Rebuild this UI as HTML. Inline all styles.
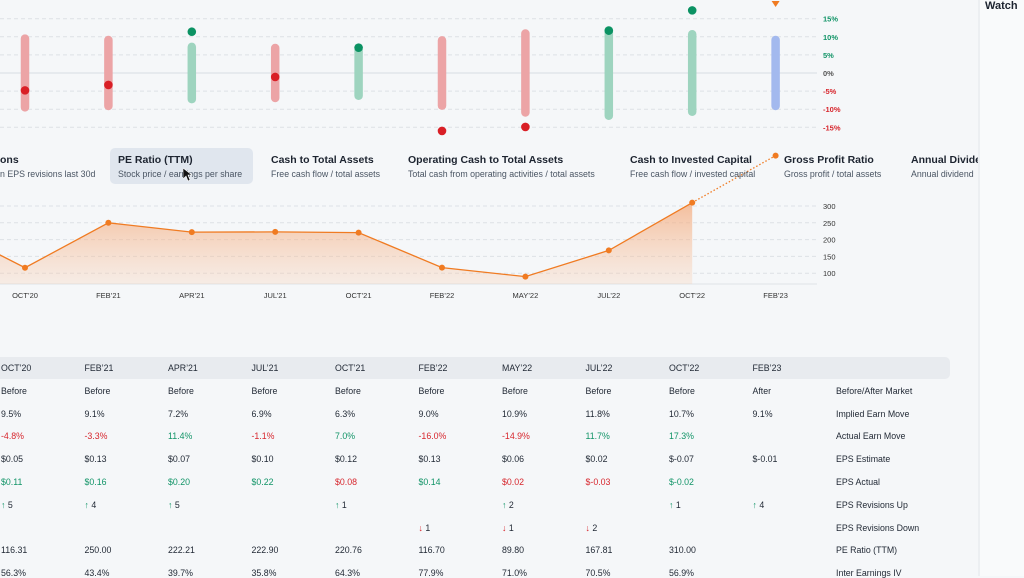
<!DOCTYPE html>
<html><head><meta charset="utf-8"><style>
body{margin:0;width:1024px;height:576px;overflow:hidden;background:#f5f7f9;font-family:"Liberation Sans",sans-serif;position:relative}
.abs{position:absolute;white-space:nowrap}
.tab{position:absolute;top:148px;height:36px;padding:6px 8px;box-sizing:border-box;border-radius:5px;white-space:nowrap}
.tab .t{font-size:10.5px;font-weight:bold;color:#1d2430}
.tab .s{font-size:8.8px;color:#4a5563;margin-top:3px}
.cell{position:absolute;font-size:8.8px;color:#1f2733;white-space:nowrap;transform:translateY(-50%)}
.g{color:#119467}.r{color:#d7262d}
</style></head><body>
<svg id="top" width="1024" height="576" style="position:absolute;left:0;top:0"></svg>
<div class="tab" style="left:-8px"><div class="t">ons</div><div class="s">n EPS revisions last 30d</div></div>
<div class="tab" style="left:110px;width:143px;background:#e0e6ee"><div class="t">PE Ratio (TTM)</div><div class="s">Stock price / earnings per share</div></div>
<div class="tab" style="left:263px"><div class="t">Cash to Total Assets</div><div class="s">Free cash flow / total assets</div></div>
<div class="tab" style="left:400px"><div class="t">Operating Cash to Total Assets</div><div class="s">Total cash from operating activities / total assets</div></div>
<div class="tab" style="left:622px"><div class="t">Cash to Invested Capital</div><div class="s">Free cash flow / invested capital</div></div>
<div class="tab" style="left:776px"><div class="t">Gross Profit Ratio</div><div class="s">Gross profit / total assets</div></div>
<div class="tab" style="left:903px;width:75px;overflow:hidden;padding-right:0"><div class="t">Annual Dividend</div><div class="s">Annual dividend</div></div>
<div style="position:absolute;left:-10px;top:357px;width:960px;height:22px;background:#e8ebef;border-radius:5px"></div>
<div id="table"></div>
<div style="position:absolute;left:978px;top:0;width:46px;height:576px;background:#f9fafb;border-left:2px solid #eceff2"></div>
<div class="abs" style="left:985px;top:0px;font-size:11px;font-weight:bold;color:#1d2430">Watch</div>
<svg width="10" height="14" style="position:absolute;left:183px;top:168px"><path d="M0 0 L0 11 L3 8 L5 13 L7 12 L5 7 L9 7 Z" fill="#111" stroke="#fff" stroke-width=".6"/></svg>
<script>
const cats=["OCT`20","FEB`21","APR`21","JUL`21","OCT`21","FEB`22","MAY`22","JUL`22","OCT`22","FEB`23"];
const implied=[9.5,9.1,7.2,6.9,6.3,9.0,10.9,11.8,10.7,9.1];
const actual=[-4.8,-3.3,11.4,-1.1,7.0,-16.0,-14.9,11.7,17.3,null];
const pctTicks=[15,10,5,0,-5,-10,-15];
const pe=[116.31,250.00,222.21,222.90,220.76,116.70,89.80,167.81,310.00];
const peForecast=450;
const peTicks=[300,250,200,150,100];
const prevPe=243;
const timing=["Before","Before","Before","Before","Before","Before","Before","Before","Before","After"];
const epsEst=["$0.05","$0.13","$0.07","$0.10","$0.12","$0.13","$0.06","$0.02","$-0.07","$-0.01"];
const epsAct=["$0.11","$0.16","$0.20","$0.22","$0.08","$0.14","$0.02","$-0.03","$-0.02",""];
const epsActGood=[1,1,1,1,0,1,0,0,1,null];
const revUp=[5,4,5,null,1,null,2,null,1,4];
const revDown=[null,null,null,null,null,1,1,2,null,null];
const ivs=["56.3%","43.4%","39.7%","35.8%","64.3%","77.9%","71.0%","70.5%","56.9%",""];

const NS="http://www.w3.org/2000/svg";
const svg=document.getElementById('top');
function mk(t,a,p){const e=document.createElementNS(NS,t);for(const k in a)e.setAttribute(k,a[k]);(p||svg).appendChild(e);return e;}
const xCol=i=>25+i*83.4;
const yPct=v=>73-v*3.62;
const yPe=v=>206+(300-v)*0.336;
pctTicks.forEach(t=>{
  const l=mk('line',{x1:0,x2:817,y1:yPct(t),y2:yPct(t),stroke:t===0?'#e1e5ea':'#dde1e6','stroke-width':t===0?1.5:1,'stroke-dasharray':t===0?'':'4 3'});
  
  
  const tx=mk('text',{x:823,y:yPct(t)+3,'font-size':7.5,'font-weight':'bold',fill:t>0?'#119467':t<0?'#d7262d':'#555'});
  tx.textContent=t+'%';
  
  
});
const defs=mk('defs',{});
const gr=mk('linearGradient',{id:'fillg',x1:0,y1:0,x2:0,y2:1},defs);
mk('stop',{offset:0,'stop-color':'#f4a574','stop-opacity':.7},gr);
mk('stop',{offset:1,'stop-color':'#f8c9a8','stop-opacity':.25},gr);
implied.forEach((v,i)=>{
  const a=actual[i];
  const col=a===null?'#a3b9ee':a>=0?'#9ed4bf':'#eca4a6';
  const b=mk('line',{x1:xCol(i),x2:xCol(i),y1:yPct(v),y2:yPct(-v),stroke:col,'stroke-width':8.5,'stroke-linecap':'round'});
  
  
  if(a!==null){
    const d=mk('circle',{cx:xCol(i),cy:yPct(a),r:4.3,fill:a>=0?'#0b9263':'#d91f26'});
    
    
  }
});
const tri=mk('path',{d:`M${xCol(9)-4} 1 L${xCol(9)+4} 1 L${xCol(9)} 7 Z`,fill:'#f07b22'});


peTicks.forEach(t=>{
  const l=mk('line',{x1:0,x2:817,y1:yPe(t),y2:yPe(t),stroke:'#dde1e6','stroke-dasharray':'4 3'});
  
  
  const tx=mk('text',{x:823,y:yPe(t)+3,'font-size':7.5,fill:'#333'});
  tx.textContent=t;
  
  
});
mk('line',{x1:0,x2:817,y1:284,y2:284,stroke:'#dfe3e8'});
let pts=[[xCol(-1),yPe(prevPe)]].concat(pe.map((v,i)=>[xCol(i),yPe(v)]));
const area=mk('path',{d:'M'+pts.map(p=>p.join(' ')).join(' L')+` L${xCol(pe.length-1)} 284 L${xCol(-1)} 284 Z`,fill:'url(#fillg)'});


const ln=mk('polyline',{points:pts.map(p=>p.join(',')).join(' '),fill:'none',stroke:'#f07b22','stroke-width':1.3});


const dl=mk('line',{x1:xCol(8),y1:yPe(pe[8]),x2:xCol(9),y2:yPe(peForecast),stroke:'#f07b22','stroke-width':1.3,'stroke-dasharray':'1.5 2'});


pe.concat([peForecast]).forEach((v,i)=>{
  const c=mk('circle',{cx:xCol(i),cy:yPe(v),r:3,fill:'#f07b22'});
  
  
});
cats.forEach((c,i)=>{
  const t=mk('text',{x:xCol(i),y:298,'font-size':7.5,fill:'#333','text-anchor':'middle'});
  t.textContent=c.replace('`','’');
  
  
});
const tb=document.getElementById('table');
const colX=i=>1+i*83.5;
const rowY=r=>368+r*22.8;
function cell(x,y,txt,cls){const d=document.createElement('div');d.className='cell '+(cls||'');d.style.left=x+'px';d.style.top=y+'px';d.textContent=txt;tb.appendChild(d);return d;}
const labels=["Before/After Market","Implied Earn Move","Actual Earn Move","EPS Estimate","EPS Actual","EPS Revisions Up","EPS Revisions Down","PE Ratio (TTM)","Inter Earnings IV"];
labels.forEach((l,r)=>{const d=cell(836,rowY(r+1),l);

});
cats.forEach((c,i)=>{
  const x=colX(i);
  let d=cell(x,rowY(0),c.replace('`','’'));
  
  
  cell(x,rowY(1),timing[i]);
  cell(x,rowY(2),implied[i].toFixed(1)+'%');
  if(actual[i]!==null)cell(x,rowY(3),actual[i].toFixed(1)+'%',actual[i]>=0?'g':'r');
  cell(x,rowY(4),epsEst[i]);
  if(epsAct[i])cell(x,rowY(5),epsAct[i],epsActGood[i]?'g':'r');
  if(revUp[i]!==null){d=cell(x,rowY(6),'');d.innerHTML='<span class="g">↑</span> '+revUp[i];}
  if(revDown[i]!==null){d=cell(x,rowY(7),'');d.innerHTML='<span class="r">↓</span> '+revDown[i];}
  if(i<pe.length)cell(x,rowY(8),pe[i].toFixed(2));
  if(ivs[i])cell(x,rowY(9),ivs[i]);
});
</script>
</body></html>
